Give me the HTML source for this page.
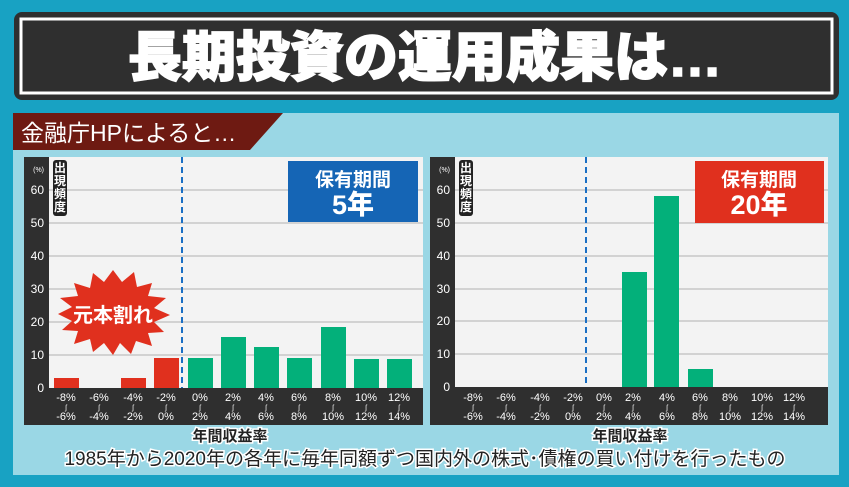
<!DOCTYPE html>
<html><head><meta charset="utf-8"><style>
html,body{margin:0;padding:0;background:#18a2c3;}
svg{display:block}
text{font-family:"Liberation Sans","Noto Sans CJK JP",sans-serif}
</style></head><body>
<svg width="849" height="487" viewBox="0 0 849 487" xmlns="http://www.w3.org/2000/svg">
<rect x="0" y="0" width="849" height="487" fill="#18a2c3"/>
<rect x="14" y="12" width="825" height="88" rx="8" fill="#2f2f2f"/>
<rect x="21" y="19" width="811" height="74" fill="none" stroke="#fff" stroke-width="3"/>
<text x="425" y="76" font-size="54" font-weight="900" fill="#fff" text-anchor="middle" stroke="#fff" stroke-width="1.5">長期投資の運用成果は…</text>
<rect x="13" y="113" width="826" height="362" fill="#9ad7e5"/>
<polygon points="13,113 283,113 250,150 13,150" fill="#6e1a12"/>
<text x="21" y="141" font-size="23" fill="#fff">金融庁HPによると…</text>

<rect x="24" y="157" width="399" height="268" fill="#2f2f2f"/>
<rect x="49" y="157" width="374" height="231" fill="#f3f3f3"/>
<g stroke="#c8c8c8" stroke-width="1.5">
<line x1="49" y1="190" x2="423" y2="190"/><line x1="49" y1="223" x2="423" y2="223"/>
<line x1="49" y1="256" x2="423" y2="256"/><line x1="49" y1="289" x2="423" y2="289"/>
<line x1="49" y1="322" x2="423" y2="322"/><line x1="49" y1="355" x2="423" y2="355"/>
</g>
<g font-size="12" fill="#fff" text-anchor="end">
<text x="44" y="172" font-size="7">(%)</text>
<text x="44" y="194">60</text><text x="44" y="227">50</text><text x="44" y="260">40</text>
<text x="44" y="293">30</text><text x="44" y="326">20</text><text x="44" y="359">10</text><text x="44" y="392">0</text>
</g>
<rect x="53" y="160" width="14" height="56" rx="3" fill="#222"/>
<g font-size="12" font-weight="bold" fill="#fff" text-anchor="middle">
<text x="60" y="172">出</text><text x="60" y="185">現</text><text x="60" y="198">頻</text><text x="60" y="211">度</text>
</g>
<line x1="182" y1="157" x2="182" y2="388" stroke="#1a6fc4" stroke-width="2" stroke-dasharray="6,4"/>
<g fill="#e0301e">
<rect x="54" y="378" width="25" height="10"/>
<rect x="121" y="378" width="25" height="10"/>
<rect x="154" y="358" width="25" height="30"/>
</g>
<g fill="#03b07a">
<rect x="188" y="358" width="25" height="30"/>
<rect x="221" y="337" width="25" height="51"/>
<rect x="254" y="347" width="25" height="41"/>
<rect x="287" y="358" width="25" height="30"/>
<rect x="321" y="327" width="25" height="61"/>
<rect x="354" y="359" width="25" height="29"/>
<rect x="387" y="359" width="25" height="29"/>
</g>
<rect x="288" y="161" width="130" height="61" fill="#1565b5"/>
<text x="353" y="186" font-size="19" fill="#fff" text-anchor="middle" font-weight="bold">保有期間</text>
<text x="353" y="214" font-size="27" fill="#fff" text-anchor="middle" font-weight="900">5年</text>
<polygon fill="#e0301e" points="113,270 122,282 134,272 137,287 152,283 148,296 166,298 154,308 170,315 154,322 164,332 148,333 152,346 136,341 131,354 120,343 113,355 104,343 93,352 90,339 74,344 78,331 62,330 72,321 58,314 72,307 60,298 78,296 74,283 90,288 93,273 104,282"/>
<text x="113" y="322" font-size="20" font-weight="bold" fill="#fff" text-anchor="middle">元本割れ</text>
<g font-size="11" fill="#fff" text-anchor="middle">
<text x="66" y="401">-8%</text><text x="66" y="410" font-size="7">ʃ</text><text x="66" y="420">-6%</text>
<text x="99" y="401">-6%</text><text x="99" y="410" font-size="7">ʃ</text><text x="99" y="420">-4%</text>
<text x="133" y="401">-4%</text><text x="133" y="410" font-size="7">ʃ</text><text x="133" y="420">-2%</text>
<text x="166" y="401">-2%</text><text x="166" y="410" font-size="7">ʃ</text><text x="166" y="420">0%</text>
<text x="200" y="401">0%</text><text x="200" y="410" font-size="7">ʃ</text><text x="200" y="420">2%</text>
<text x="233" y="401">2%</text><text x="233" y="410" font-size="7">ʃ</text><text x="233" y="420">4%</text>
<text x="266" y="401">4%</text><text x="266" y="410" font-size="7">ʃ</text><text x="266" y="420">6%</text>
<text x="299" y="401">6%</text><text x="299" y="410" font-size="7">ʃ</text><text x="299" y="420">8%</text>
<text x="333" y="401">8%</text><text x="333" y="410" font-size="7">ʃ</text><text x="333" y="420">10%</text>
<text x="366" y="401">10%</text><text x="366" y="410" font-size="7">ʃ</text><text x="366" y="420">12%</text>
<text x="399" y="401">12%</text><text x="399" y="410" font-size="7">ʃ</text><text x="399" y="420">14%</text>
</g>
<text x="230" y="441" font-size="15" font-weight="bold" fill="#222" stroke="#fff" stroke-width="3" paint-order="stroke" text-anchor="middle">年間収益率</text>

<rect x="430" y="157" width="398" height="268" fill="#2f2f2f"/>
<rect x="455" y="157" width="373" height="230" fill="#f3f3f3"/>
<g stroke="#c8c8c8" stroke-width="1.5">
<line x1="455" y1="190" x2="828" y2="190"/><line x1="455" y1="223" x2="828" y2="223"/>
<line x1="455" y1="256" x2="828" y2="256"/><line x1="455" y1="289" x2="828" y2="289"/>
<line x1="455" y1="321" x2="828" y2="321"/><line x1="455" y1="354" x2="828" y2="354"/>
</g>
<g font-size="12" fill="#fff" text-anchor="end">
<text x="450" y="172" font-size="7">(%)</text>
<text x="450" y="194">60</text><text x="450" y="227">50</text><text x="450" y="260">40</text>
<text x="450" y="293">30</text><text x="450" y="325">20</text><text x="450" y="358">10</text><text x="450" y="391">0</text>
</g>
<rect x="459" y="160" width="14" height="56" rx="3" fill="#222"/>
<g font-size="12" font-weight="bold" fill="#fff" text-anchor="middle">
<text x="466" y="172">出</text><text x="466" y="185">現</text><text x="466" y="198">頻</text><text x="466" y="211">度</text>
</g>
<line x1="586" y1="157" x2="586" y2="387" stroke="#1a6fc4" stroke-width="2" stroke-dasharray="6,4"/>
<g fill="#03b07a">
<rect x="622" y="272" width="25" height="115"/>
<rect x="654" y="196" width="25" height="191"/>
<rect x="688" y="369" width="25" height="18"/>
</g>
<rect x="695" y="161" width="129" height="62" fill="#e0301e"/>
<text x="759" y="186" font-size="19" fill="#fff" text-anchor="middle" font-weight="bold">保有期間</text>
<text x="759" y="214" font-size="27" fill="#fff" text-anchor="middle" font-weight="900">20年</text>
<g font-size="11" fill="#fff" text-anchor="middle">
<text x="473" y="401">-8%</text><text x="473" y="410" font-size="7">ʃ</text><text x="473" y="420">-6%</text>
<text x="506" y="401">-6%</text><text x="506" y="410" font-size="7">ʃ</text><text x="506" y="420">-4%</text>
<text x="540" y="401">-4%</text><text x="540" y="410" font-size="7">ʃ</text><text x="540" y="420">-2%</text>
<text x="573" y="401">-2%</text><text x="573" y="410" font-size="7">ʃ</text><text x="573" y="420">0%</text>
<text x="604" y="401">0%</text><text x="604" y="410" font-size="7">ʃ</text><text x="604" y="420">2%</text>
<text x="633" y="401">2%</text><text x="633" y="410" font-size="7">ʃ</text><text x="633" y="420">4%</text>
<text x="667" y="401">4%</text><text x="667" y="410" font-size="7">ʃ</text><text x="667" y="420">6%</text>
<text x="700" y="401">6%</text><text x="700" y="410" font-size="7">ʃ</text><text x="700" y="420">8%</text>
<text x="730" y="401">8%</text><text x="730" y="410" font-size="7">ʃ</text><text x="730" y="420">10%</text>
<text x="762" y="401">10%</text><text x="762" y="410" font-size="7">ʃ</text><text x="762" y="420">12%</text>
<text x="794" y="401">12%</text><text x="794" y="410" font-size="7">ʃ</text><text x="794" y="420">14%</text>
</g>
<text x="630" y="441" font-size="15" font-weight="bold" fill="#222" stroke="#fff" stroke-width="3" paint-order="stroke" text-anchor="middle">年間収益率</text>

<text x="425" y="465" font-size="19" fill="#222" stroke="#fff" stroke-width="3" paint-order="stroke" text-anchor="middle">1985年から2020年の各年に毎年同額ずつ国内外の株式･債権の買い付けを行ったもの</text>
</svg>
</body></html>
